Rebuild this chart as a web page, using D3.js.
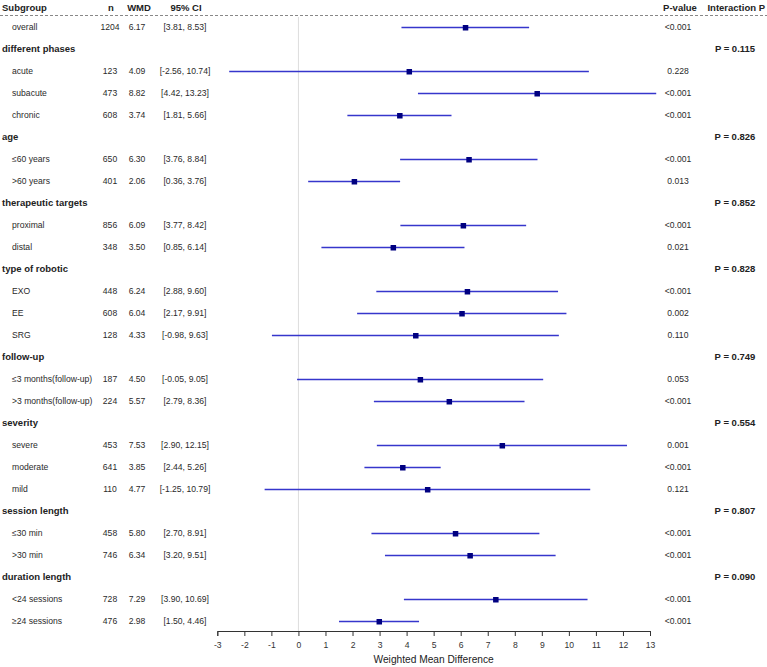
<!DOCTYPE html>
<html>
<head>
<meta charset="utf-8">
<script src="https://cdn.jsdelivr.net/npm/d3@7"></script>
<style>
  body { margin: 0; background: #fff; }
  text { font-family: "Liberation Sans", Arial, sans-serif; }
</style>
</head>
<body>
<div id="chart"></div>
<script>
// Subgroup rows, in display order (group index -1 = overall)
const rowLabels = ["overall", "acute", "subacute", "chronic", "≤60 years", ">60 years",
    "proximal", "distal", "EXO", "EE", "SRG", "≤3 months(follow-up)", ">3 months(follow-up)",
    "severe", "moderate", "mild", "≤30 min", ">30 min", "<24 sessions", "≥24 sessions"];
const rowGroup = [-1, 0, 0, 0, 1, 1, 2, 2, 3, 3, 3, 4, 4, 5, 5, 5, 6, 6, 7, 7];
const nValues = [1204, 123, 473, 608, 650, 401, 856, 348, 448, 608, 128, 187, 224, 453, 641, 110, 458, 746, 728, 476];
const wmdValues = [6.17, 4.09, 8.82, 3.74, 6.30, 2.06, 6.09, 3.50, 6.24, 6.04, 4.33, 4.50, 5.57, 7.53, 3.85, 4.77, 5.80, 6.34, 7.29, 2.98];
const ciLow = [3.81, -2.56, 4.42, 1.81, 3.76, 0.36, 3.77, 0.85, 2.88, 2.17, -0.98, -0.05, 2.79, 2.90, 2.44, -1.25, 2.70, 3.20, 3.90, 1.50];
const ciHigh = [8.53, 10.74, 13.23, 5.66, 8.84, 3.76, 8.42, 6.14, 9.60, 9.91, 9.63, 9.05, 8.36, 12.15, 5.26, 10.79, 8.91, 9.51, 10.69, 4.46];
const pValues = ["<0.001", "0.228", "<0.001", "<0.001", "<0.001", "0.013", "<0.001", "0.021", "<0.001", "0.002",
    "0.110", "0.053", "<0.001", "0.001", "<0.001", "0.121", "<0.001", "<0.001", "<0.001", "<0.001"];

const groupNames = ["different phases", "age", "therapeutic targets", "type of robotic",
    "follow-up", "severity", "session length", "duration length"];
const interactionP = ["0.115", "0.826", "0.852", "0.828", "0.749", "0.554", "0.807", "0.090"];

const xTicks = d3.range(-3, 14);

// Build the display list: group header rows and subgroup rows
let lines = [];
let lastGroup = -1;
rowLabels.forEach((label, i) => {
    if (rowGroup[i] !== lastGroup) {
        lastGroup = rowGroup[i];
        lines.push({ type: "group", name: groupNames[lastGroup], p: interactionP[lastGroup] });
    }
    lines.push({ type: "row", label: label, n: nValues[i], wmd: wmdValues[i],
        lo: ciLow[i], hi: ciHigh[i], p: pValues[i] });
});

const width = 767, height = 667;

const svg = d3.select("#chart").append("svg")
    .attr("width", width)
    .attr("height", height);

const x = d3.scaleLinear().domain([-3, 13]).range([217.3, 650]);
const y = d3.scaleLinear().domain([0, lines.length - 1]).range([27, 621]);

const textColor = "#2a2a2a";
const lineColor = "#3636cc";
const boxColor = "#000080";

// Header
const header = svg.append("g")
    .style("font-size", "9.5px")
    .style("font-weight", "bold")
    .attr("fill", "#222");
header.append("text").attr("x", 2).attr("y", 11).text("Subgroup");
header.append("text").attr("x", 111).attr("y", 11).attr("text-anchor", "middle").text("n");
header.append("text").attr("x", 139).attr("y", 11).attr("text-anchor", "middle").text("WMD");
header.append("text").attr("x", 186).attr("y", 11).attr("text-anchor", "middle").text("95% CI");
header.append("text").attr("x", 680).attr("y", 11).attr("text-anchor", "middle").text("P-value");
header.append("text").attr("x", 765).attr("y", 11).attr("text-anchor", "end").text("Interaction P");

svg.append("line")
    .attr("x1", 0).attr("x2", width)
    .attr("y1", 15.5).attr("y2", 15.5)
    .attr("stroke", "#888")
    .attr("stroke-dasharray", "3,2");

// Reference line at 0
svg.append("line")
    .attr("x1", x(0)).attr("x2", x(0))
    .attr("y1", 17).attr("y2", 631)
    .attr("stroke", "#ddd");

// Group header rows
const groups = svg.selectAll(".grp")
    .data(lines.filter(d => d.type === "group"))
    .enter().append("g")
    .attr("class", "grp")
    .attr("transform", d => `translate(0,${y(lines.indexOf(d))})`);

groups.append("text")
    .attr("x", 2).attr("dy", "0.35em")
    .style("font-size", "9.5px").style("font-weight", "bold")
    .attr("fill", "#222")
    .text(d => d.name);

groups.append("text")
    .attr("x", 735).attr("dy", "0.35em")
    .attr("text-anchor", "middle")
    .style("font-size", "9.5px").style("font-weight", "bold")
    .attr("fill", "#222")
    .text(d => "P = " + d.p);

// Subgroup rows
const rows = svg.selectAll(".row")
    .data(lines.filter(d => d.type === "row"))
    .enter().append("g")
    .attr("class", "row")
    .attr("transform", d => `translate(0,${y(lines.indexOf(d))})`)
    .style("font-size", "8.6px")
    .attr("fill", textColor);

rows.append("text").attr("x", 12).attr("dy", "0.35em").text(d => d.label);
rows.append("text").attr("x", 110).attr("dy", "0.35em").attr("text-anchor", "middle").text(d => d.n);
rows.append("text").attr("x", 137).attr("dy", "0.35em").attr("text-anchor", "middle").text(d => d.wmd.toFixed(2));
rows.append("text").attr("x", 185).attr("dy", "0.35em").attr("text-anchor", "middle")
    .text(d => `[${d.lo.toFixed(2)}, ${d.hi.toFixed(2)}]`);
rows.append("text").attr("x", 678).attr("dy", "0.35em").attr("text-anchor", "middle").text(d => d.p);

rows.append("line")
    .attr("x1", d => x(d.lo)).attr("x2", d => x(d.hi))
    .attr("y1", 0.5).attr("y2", 0.5)
    .style("stroke", lineColor)
    .style("stroke-width", "1.6px");

rows.append("rect")
    .attr("x", d => x(d.wmd) - 2.5)
    .attr("y", -2)
    .attr("width", 5.5).attr("height", 5.5)
    .attr("fill", boxColor);

// X axis
const axis = svg.append("g")
    .attr("transform", "translate(0,631)")
    .call(d3.axisBottom(x).tickValues(xTicks).tickFormat(d => String(d))
        .tickSizeOuter(5).tickSize(5).tickPadding(6));
axis.select(".domain").attr("stroke", "#333");
axis.selectAll(".tick line").attr("stroke", "#333");
axis.selectAll(".tick text")
    .style("font-family", "Liberation Sans, Arial, sans-serif")
    .style("font-size", "8.6px")
    .attr("fill", "#333");

svg.append("text")
    .attr("x", (x(-3) + x(13)) / 2)
    .attr("y", 663)
    .attr("text-anchor", "middle")
    .style("font-size", "10.2px")
    .attr("fill", "#222")
    .text("Weighted Mean Difference");
</script>
</body>
</html>
